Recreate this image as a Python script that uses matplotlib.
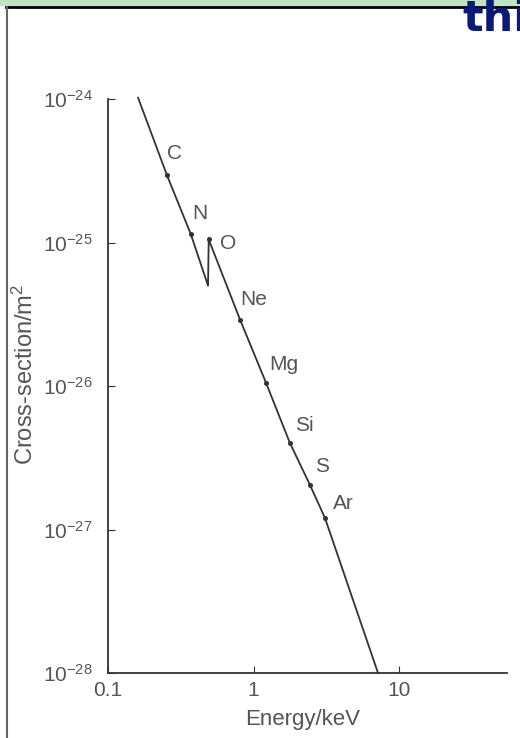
import matplotlib
matplotlib.use('Agg')
import matplotlib.pyplot as plt
from matplotlib.patches import Rectangle
from matplotlib.lines import Line2D

# curve (keV, m^2); the O edge is the vertical step
line_energy = [0.161, 0.254, 0.37, 0.487, 0.492, 0.808, 1.22, 1.78, 2.44, 3.10, 7.17]
line_sigma = [1.02e-24, 2.95e-25, 1.15e-25, 5.0e-26, 1.05e-25, 2.9e-26,
              1.05e-26, 4.0e-27, 2.05e-27, 1.2e-27, 1.0e-28]

# absorption edges marked on the curve
edge_names = ['C', 'N', 'O', 'Ne', 'Mg', 'Si', 'S', 'Ar']
edge_energy = [0.254, 0.37, 0.492, 0.808, 1.22, 1.78, 2.44, 3.10]
edge_sigma = [2.95e-25, 1.15e-25, 1.05e-25, 2.9e-26, 1.05e-26, 4.0e-27, 2.05e-27, 1.2e-27]

x_ticks = [0.1, 1, 10]
x_tick_labels = ['0.1', '1', '10']
y_ticks = [1e-28, 1e-27, 1e-26, 1e-25, 1e-24]

# label offsets in pixels (dx, dy) from each edge mark
label_offsets = [(8, 22), (9, 20), (19, -4), (14, 20), (18, 18), (14, 18), (12, 18), (18, 15)]

plt.rcParams['font.family'] = ['Liberation Sans', 'DejaVu Sans']
plt.rcParams['mathtext.default'] = 'regular'
txt = '#555555'
ink = '#333333'

fig = plt.figure(figsize=(5.2, 7.38), dpi=100)
W, H = 520.0, 738.0

# slide decorations around the scanned figure
fig.patches.append(Rectangle((0, 1 - 6 / H), 1, 6 / H, transform=fig.transFigure,
                             facecolor='#bfe4c2', edgecolor='none', zorder=0))
fig.lines.append(Line2D([6 / W, 1], [1 - 6.5 / H, 1 - 6.5 / H], transform=fig.transFigure,
                        color='black', lw=2))
fig.lines.append(Line2D([6.5 / W, 6.5 / W], [0, 1 - 7 / H], transform=fig.transFigure,
                        color='#666666', lw=1.5))
fig.text(462 / W, 1 - 31 / H, 'thi', color='#0b1a7a', fontsize=31, fontweight='bold',
         family='DejaVu Sans', va='baseline', ha='left')

ax = fig.add_axes([108 / W, 1 - 673 / H, 399 / W, 574 / H])
ax.set_xscale('log')
ax.set_yscale('log')
ax.set_xlim(0.1, 55.2)
ax.set_ylim(1e-28, 1e-24)

ax.plot(line_energy, line_sigma, color=ink, lw=1.3, clip_on=False)
ax.plot(edge_energy, edge_sigma, 'o', color=ink, ms=2.6, clip_on=False)

for name, e, s, (dx, dy) in zip(edge_names, edge_energy, edge_sigma, label_offsets):
    ax.annotate(name, (e, s), xytext=(dx, dy), textcoords='offset pixels',
                ha='center', va='center', fontsize=15, color=txt)

for side in ['top', 'right']:
    ax.spines[side].set_visible(False)
for side in ['left', 'bottom']:
    ax.spines[side].set_color(ink)
    ax.spines[side].set_linewidth(1.3)

ax.set_xticks(x_ticks)
ax.set_xticklabels(x_tick_labels)
ax.set_yticks(y_ticks)
ax.minorticks_off()
ax.tick_params(axis='both', direction='in', length=5, color=ink, labelcolor=txt, labelsize=15)
ax.tick_params(axis='y', pad=11)
ax.tick_params(axis='x', pad=6)

ax.set_xlabel('Energy/keV', fontsize=16, color=txt)
ax.xaxis.set_label_coords(0.489, -0.062)
ax.set_ylabel('Cross-section/m$^{2}$', fontsize=17, color=txt)
ax.yaxis.set_label_coords(-0.175, 0.52)

fig.savefig('out.png', dpi=100)
